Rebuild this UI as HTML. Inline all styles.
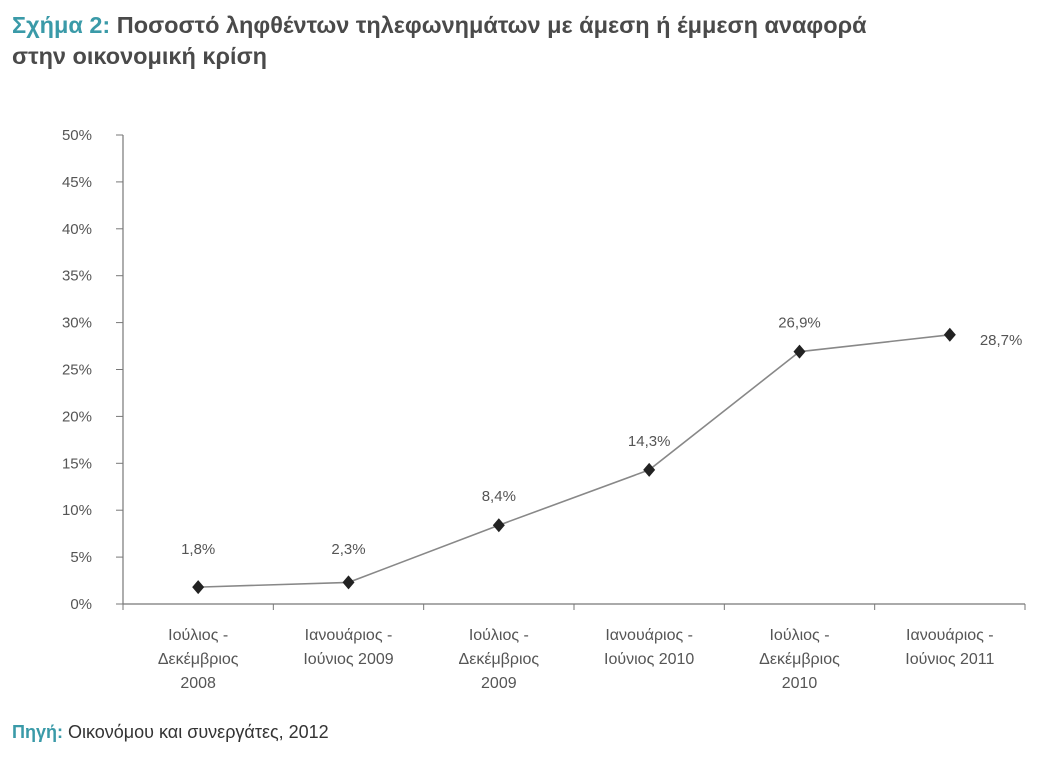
<!DOCTYPE html>
<html><head><meta charset="utf-8"><style>
body{margin:0;background:#fff;width:1045px;height:758px;overflow:hidden;font-family:"Liberation Sans","DejaVu Sans",sans-serif}
.title{position:absolute;left:12px;top:10px;font-size:23.5px;font-weight:bold;color:#4a4a4a;line-height:31px}
.title .t{color:#3a9aa8}
.src{position:absolute;left:12px;top:722px;font-size:18px;color:#333}
.src b{color:#3a9aa8}
svg text{font-family:"Liberation Sans","DejaVu Sans",sans-serif;fill:#555}
</style></head><body>
<div class="title"><span class="t">Σχήμα 2:</span> Ποσοστό ληφθέντων τηλεφωνημάτων με άμεση ή έμμεση αναφορά<br>στην οικονομική κρίση</div>
<svg id="c" width="1045" height="758" style="position:absolute;left:0;top:0"></svg>
<div class="src"><b>Πηγή:</b> Οικονόμου και συνεργάτες, 2012</div>
<script>
const categories=[["Ιούλιος -","Δεκέμβριος","2008"],["Ιανουάριος -","Ιούνιος 2009"],["Ιούλιος -","Δεκέμβριος","2009"],["Ιανουάριος -","Ιούνιος 2010"],["Ιούλιος -","Δεκέμβριος","2010"],["Ιανουάριος -","Ιούνιος 2011"]];
const values=[1.8,2.3,8.4,14.3,26.9,28.7];
const valueLabels=["1,8%","2,3%","8,4%","14,3%","26,9%","28,7%"];
const yTicks=[0,5,10,15,20,25,30,35,40,45,50];
const NS="http://www.w3.org/2000/svg";
const svg=document.getElementById('c');
const x0=123,x1=1025,yb=604,yt=135;
const xs=i=>x0+(x1-x0)/categories.length*(i+0.5);
const ys=v=>yb-(v/50)*(yb-yt);
function el(t,a){const e=document.createElementNS(NS,t);for(const k in a)e.setAttribute(k,a[k]);svg.appendChild(e);return e;}
let e=el('line',{x1:x0,y1:yt,x2:x0,y2:yb,stroke:'#777','stroke-width':1.2});

e=el('line',{x1:x0,y1:yb,x2:x1,y2:yb,stroke:'#777','stroke-width':1.2});

yTicks.forEach(v=>{
 const y=ys(v);
 let t=el('line',{x1:x0-7,y1:y,x2:x0,y2:y,stroke:'#777'});
 
 let l=el('text',{x:92,y:y+5,'text-anchor':'end','font-size':15});l.textContent=v+'%';
 
});
const step=(x1-x0)/categories.length;
for(let i=0;i<=categories.length;i++){
 let t=el('line',{x1:x0+step*i,y1:yb,x2:x0+step*i,y2:yb+6,stroke:'#777'});
 
}
categories.forEach((c,i)=>{
 c.forEach((s,j)=>{let l=el('text',{x:xs(i),y:640+j*24,'text-anchor':'middle','font-size':16});l.textContent=s;
 });
});
let p=el('polyline',{points:values.map((v,i)=>xs(i)+','+ys(v)).join(' '),fill:'none',stroke:'#888','stroke-width':1.6});

values.forEach((v,i)=>{
 const x=xs(i),y=ys(v);
 let m=el('polygon',{points:`${x},${y-7} ${x+6},${y} ${x},${y+7} ${x-6},${y}`,fill:'#222'});
 
 let lx=x,ly=Math.min(y-24,554),anc='middle';
 if(i===values.length-1){lx=x+30;ly=y+10;anc='start';}
 let l=el('text',{x:lx,y:ly,'text-anchor':anc,'font-size':15});l.textContent=valueLabels[i];
 
});
</script>
</body></html>
